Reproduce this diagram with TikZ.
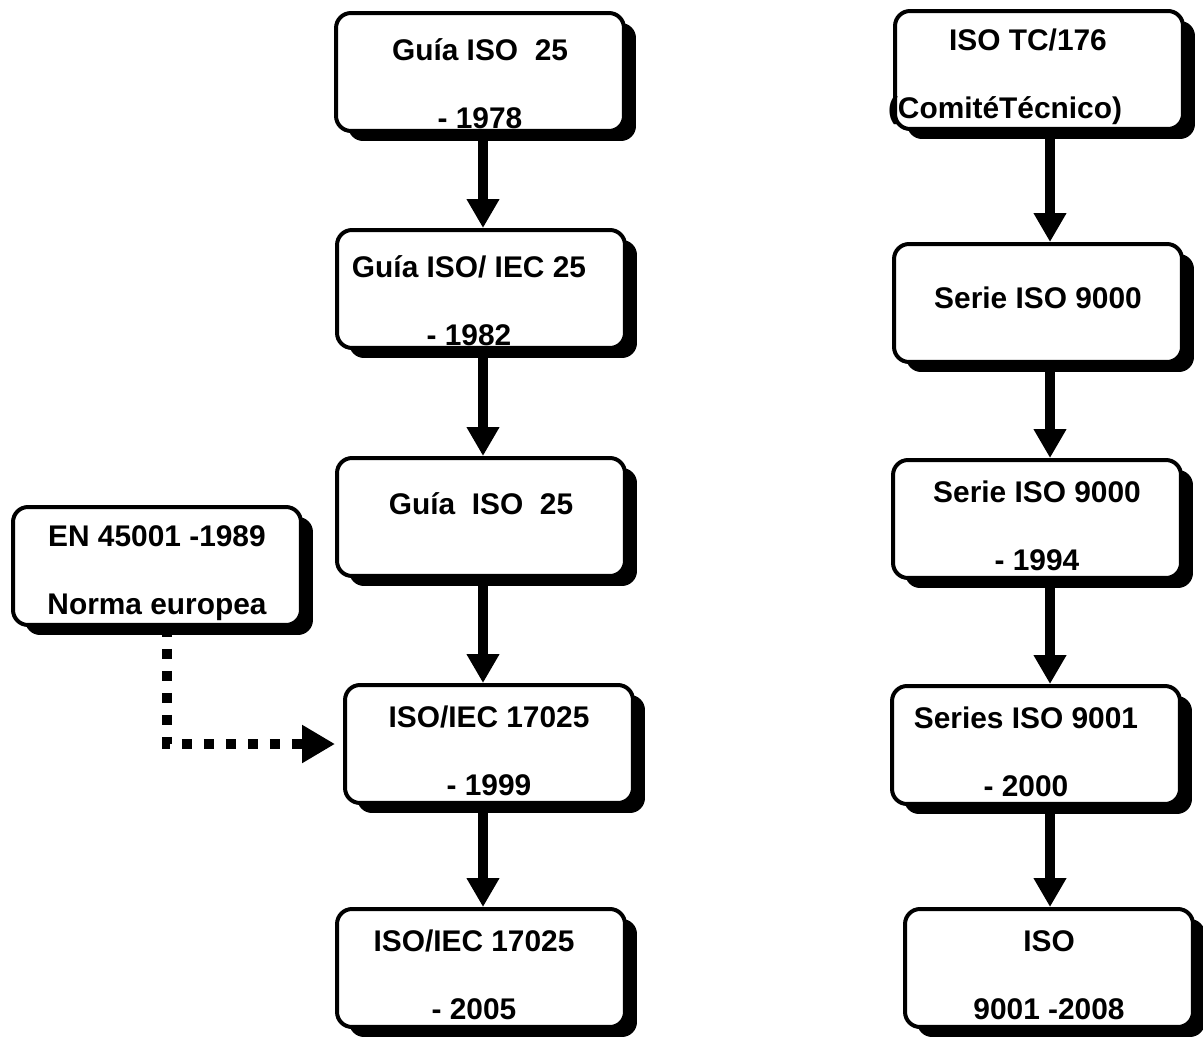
\documentclass[tikz,border=0pt]{standalone}
\usepackage{fontspec}
\setmainfont{Liberation Sans}
\usetikzlibrary{positioning, arrows.meta, shadows}
\newcommand{\bajar}[1][0.72cm]{\rule{0pt}{#1}}
\tikzset{
  caja/.style={rectangle, rounded corners=0.3cm, draw=black, line width=0.08cm, fill=white,
    minimum width=5.76cm, minimum height=2.36cm, inner sep=0pt, align=center,
    font=\fontsize{17pt}{38.7pt}\selectfont\bfseries,
    drop shadow={shadow xshift=0.24cm, shadow yshift=-0.2cm, fill=black, opacity=1}},
  unalinea/.style={caja, text height=0.44cm, text depth=#1},
  flecha/.style={line width=0.2cm, -{Triangle[width=0.62cm, length=0.58cm]}},
  punteada/.style={line width=0.2cm, dash pattern=on 0.2cm off 0.24cm, shorten >=0.16cm,
    -{Triangle[width=0.72cm, length=0.66cm]}}
}
\begin{document}
\begin{tikzpicture}[x=0.02cm, y=-0.02cm]
  \useasboundingbox (0,0) rectangle (1203,1040);
  \coordinate (ejeizq) at (483,0);
  \coordinate (ejeder) at (1050,0);

  % Columna izquierda
  \node (guia78) [caja] at (480,72) {\bajar[0.92cm]Guía ISO~~25\\- 1978};
  \node (guia82) [caja] at (481,289) {\bajar[0.92cm]\hspace*{-0.48cm}Guía ISO/ IEC 25\\\hspace*{-0.48cm}- 1982};
  \node (guia) [unalinea=0.56cm] at (481,517) {Guía~~ISO~~25};
  \node (iec99) [caja] at (489,744) {\bajar ISO/IEC 17025\\- 1999};
  \node (iec05) [caja] at (481,968) {\bajar\hspace*{-0.28cm}ISO/IEC 17025\\\hspace*{-0.28cm}- 2005};
  \node (en) [caja] at (157,566) {\bajar EN 45001 -1989\\Norma europea};

  % Columna derecha
  \node (tc176) [caja] at (1039,70) {\bajar\hspace*{-0.44cm}ISO TC/176\\\hspace*{-1.36cm}(ComitéTécnico)};
  \node (serie) [unalinea=0.2cm] at (1038,303) {Serie ISO 9000};
  \node (serie94) [caja] at (1037,519) {\bajar Serie ISO 9000\\- 1994};
  \node (serie00) [caja] at (1036,745) {\bajar\hspace*{-0.4cm}Series ISO 9001\\\hspace*{-0.4cm}- 2000};
  \node (iso08) [caja] at (1049,968) {\bajar ISO\\9001 -2008};

  % Flechas
  \draw [flecha] (guia78.south -| ejeizq) -- (guia82.north -| ejeizq);
  \draw [flecha] (guia82.south -| ejeizq) -- (guia.north -| ejeizq);
  \draw [flecha] (guia.south -| ejeizq) -- (iec99.north -| ejeizq);
  \draw [flecha] (iec99.south -| ejeizq) -- (iec05.north -| ejeizq);
  \draw [flecha] (tc176.south -| ejeder) -- (serie.north -| ejeder);
  \draw [flecha] (serie.south -| ejeder) -- (serie94.north -| ejeder);
  \draw [flecha] (serie94.south -| ejeder) -- (serie00.north -| ejeder);
  \draw [flecha] (serie00.south -| ejeder) -- (iso08.north -| ejeder);

  % Norma europea
  \draw [punteada] ([xshift=0.2cm]en.south) |- (iec99.west);
\end{tikzpicture}
\end{document}
